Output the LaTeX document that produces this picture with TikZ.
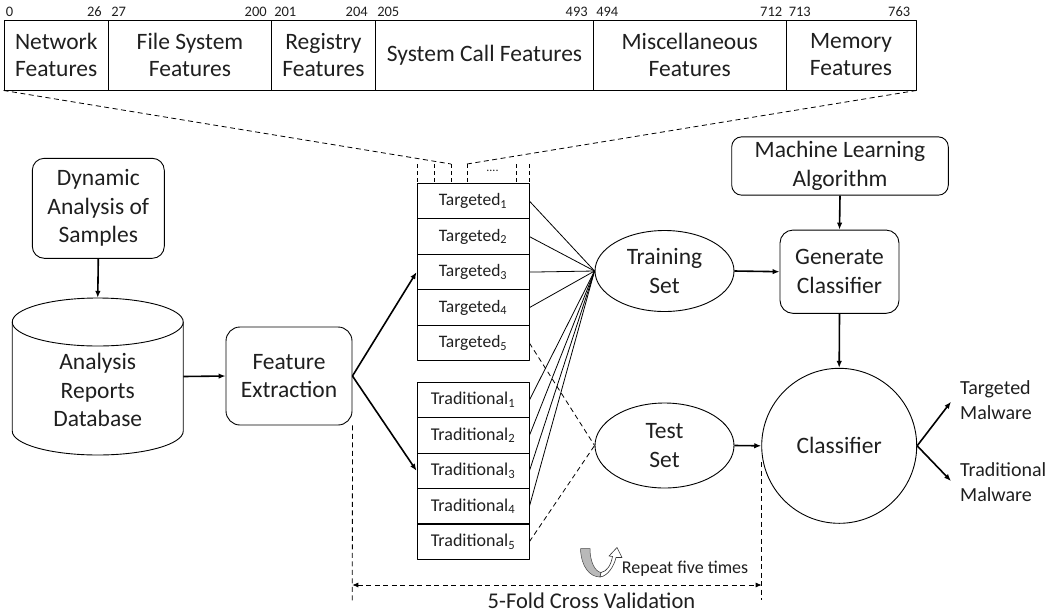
\documentclass[tikz,border=0pt]{standalone}
\usepackage{fontspec}
\setmainfont{Carlito}
\usetikzlibrary{arrows.meta,shapes.geometric}
\begin{document}
\begin{tikzpicture}[x=1pt,y=-1pt, line join=round,
  every node/.style={inner sep=0pt, text=black!88},
  seg/.style={draw, line width=0.9pt, minimum height=70pt, align=center, font=\fontsize{23.5}{27}\selectfont},
  num/.style={font=\fontsize{14.5}{16}\selectfont},
  rbox/.style={draw, line width=0.9pt, align=center, font=\fontsize{23.5}{28.5}\selectfont},
  rowbox/.style={draw, line width=0.9pt, minimum width=112pt, minimum height=35.5pt},
  oval/.style={draw, ellipse, line width=0.9pt, minimum width=139pt, align=center, font=\fontsize{23.5}{28.5}\selectfont},
  arr/.style={line width=1.6pt, -{Latex[length=7pt,width=5.5pt]}},
  thinline/.style={line width=0.8pt},
  dsh/.style={line width=0.8pt, dash pattern=on 5pt off 3.5pt},
  lbl/.style={align=left, font=\fontsize{20}{25}\selectfont}
]
\useasboundingbox (0,0) rectangle (1052,614);

% top feature bar
\node[seg, minimum width=104.5pt] (s1) at (56.25,55) {Network\\Features};
\node[seg, minimum width=163pt] (s2) at (190,55) {File System\\Features};
\node[seg, minimum width=104pt] (s3) at (323.5,55) {Registry\\Features};
\node[seg, minimum width=218pt] (s4) at (484.5,55) {System Call Features};
\node[seg, minimum width=192.5pt] (s5) at (689.75,55) {Miscellaneous\\Features};
\node[seg, minimum width=130pt] (s6) at (851,55) {Memory\\Features};

\node[num, anchor=base west] (n0) at ([xshift=2pt,yshift=3.5pt]s1.north west) {0};
\node[num, anchor=base east] (n26) at ([xshift=-7pt,yshift=3.5pt]s1.north east) {26};
\node[num, anchor=base west] (n27) at ([xshift=3pt,yshift=3.5pt]s2.north west) {27};
\node[num, anchor=base east] (n200) at ([xshift=-5pt,yshift=3.5pt]s2.north east) {200};
\node[num, anchor=base west] (n201) at ([xshift=3pt,yshift=3.5pt]s3.north west) {201};
\node[num, anchor=base east] (n204) at ([xshift=-8pt,yshift=3.5pt]s3.north east) {204};
\node[num, anchor=base west] (n205) at ([xshift=2pt,yshift=3.5pt]s4.north west) {205};
\node[num, anchor=base east] (n493) at ([xshift=-6pt,yshift=3.5pt]s4.north east) {493};
\node[num, anchor=base west] (n494) at ([xshift=3pt,yshift=3.5pt]s5.north west) {494};
\node[num, anchor=base east] (n712) at ([xshift=-4pt,yshift=3.5pt]s5.north east) {712};
\node[num, anchor=base west] (n713) at ([xshift=3pt,yshift=3.5pt]s6.north west) {713};
\node[num, anchor=base east] (n763) at ([xshift=-6pt,yshift=3.5pt]s6.north east) {763};

% column header
\coordinate (hl) at (451,164);
\coordinate (hr) at (467,164);
\draw[dsh] (s1.south west) -- (hl);
\draw[dsh] (hr) -- (s6.south east);
\foreach \x in {417,434,451,467,516,529} \draw[line width=0.8pt, dash pattern=on 4pt off 3pt] (\x,164) -- (\x,183.3);
\node[font=\fontsize{12}{12}\selectfont] (dots) at (492.5,171) {....};

% rows
\begin{scope}[every node/.append style={font=\fontsize{17.5}{20}\selectfont}]
\node[rowbox] (t1) at (473,201.1) {Targeted\textsubscript{1}};
\node[rowbox] (t2) at (473,236.6) {Targeted\textsubscript{2}};
\node[rowbox] (t3) at (473,272.1) {Targeted\textsubscript{3}};
\node[rowbox] (t4) at (473,307.6) {Targeted\textsubscript{4}};
\node[rowbox] (t5) at (473,343.1) {Targeted\textsubscript{5}};
\end{scope}
\begin{scope}[every node/.append style={font=\fontsize{18}{20}\selectfont}]
\node[rowbox] (r1) at (473,400.0) {Traditional\textsubscript{1}};
\node[rowbox] (r2) at (473,435.4) {Traditional\textsubscript{2}};
\node[rowbox] (r3) at (473,470.8) {Traditional\textsubscript{3}};
\node[rowbox] (r4) at (473,506.2) {Traditional\textsubscript{4}};
\node[rowbox] (r5) at (473,541.6) {Traditional\textsubscript{5}};
\end{scope}

% left part
\node[rbox, rounded corners=12pt, minimum width=132pt, minimum height=100pt] (dyn) at (98.3,208.3) {Dynamic\\Analysis of\\Samples};
\node[minimum width=171pt, minimum height=157pt] (db) at (97.75,376.5) {};
\draw[line width=0.9pt] (97.75,322) ellipse [x radius=85.5, y radius=24];
\draw[line width=0.9pt] (12.25,322) -- (12.25,431) arc[start angle=180, end angle=0, x radius=85.5, y radius=24] -- (183.25,322);
\node[align=center, font=\fontsize{23.5}{28.3}\selectfont] (dbt) at (97.75,390) {Analysis\\Reports\\Database};
\node[rbox, rounded corners=14pt, minimum width=126pt, minimum height=98pt] (fe) at (289,376) {Feature\\Extraction};

\draw[arr] (dyn.south) -- (db.north);
\draw[arr] (db.east) -- (fe.west);
\draw[arr] (fe.east) -- (t3.west);
\draw[arr] (fe.east) -- (r3.west);

% sets
\node[oval, minimum height=81pt] (train) at (664.5,271) {Training\\Set};
\node[oval, minimum height=85pt] (test) at (664.5,445.5) {Test\\Set};
\foreach \n in {t1,t2,t3,t4,r1,r2,r3,r4} \draw[thinline] (\n.east) -- (train.west);
\draw[dsh] (t5.east) -- (test.west);
\draw[dsh] (r5.east) -- (test.west);

% right part
\node[rbox, rounded corners=10pt, minimum width=216.6pt, minimum height=58.3pt] (ml) at (840,166) {Machine Learning\\Algorithm};
\node[rbox, rounded corners=13pt, minimum width=119pt, minimum height=83.3pt] (gen) at (839.5,271.7) {Generate\\Classifier};
\node[draw, circle, line width=0.9pt, minimum size=155pt, font=\fontsize{23.5}{28}\selectfont] (cls) at (839.2,445.8) {Classifier};

\draw[arr] (ml.south) -- (gen.north);
\draw[arr] (train.east) -- (gen.west);
\draw[arr] (gen.south) -- (cls.north);
\draw[arr] (test.east) -- (cls.west);

\coordinate (o1) at (951,401.7);
\coordinate (o2) at (951,481);
\draw[arr] (cls.east) -- (o1);
\draw[arr] (cls.east) -- (o2);
\node[lbl, anchor=west] (lt) at (960,400.5) {Targeted\\Malware};
\node[lbl, anchor=west] (lr) at (960,482.5) {Traditional\\Malware};

% cross validation
\coordinate (vl) at (352.3,603);
\coordinate (hL) at (352.3,585);
\coordinate (hR) at (761.7,585);
\coordinate (vrt) at (761.7,462);
\coordinate (vrb) at (761.7,600);
\draw[dsh] (fe.south east) -- (vl);
\draw[dsh] (vrt) -- (vrb);
\draw[dsh, {Latex[length=6pt,width=5pt]}-{Latex[length=6pt,width=5pt]}] (hL) -- (hR);
\node[font=\fontsize{22.5}{26}\selectfont] (cv) at (591.5,601) {5-Fold Cross Validation};

% repeat icon
\filldraw[fill=gray!55, draw=gray!55!black, line width=0.5pt] (580.5,548.5) .. controls (581,567) and (590,577) .. (600,577) -- (601,572.5) .. controls (595,571.5) and (590,562) .. (590,548.5) -- cycle;
\filldraw[fill=white, draw=black!80, line width=0.6pt] (600,577) .. controls (608,576) and (614,566) .. (616,557.5) -- (622,557.5) -- (617,547.5) -- (609,556) -- (612.5,556.5) .. controls (611,565) and (607,571.5) .. (601,572.5) -- cycle;
\node[anchor=west, font=\fontsize{18}{20}\selectfont] (rep) at (621.7,568.3) {Repeat five times};
\end{tikzpicture}
\end{document}
